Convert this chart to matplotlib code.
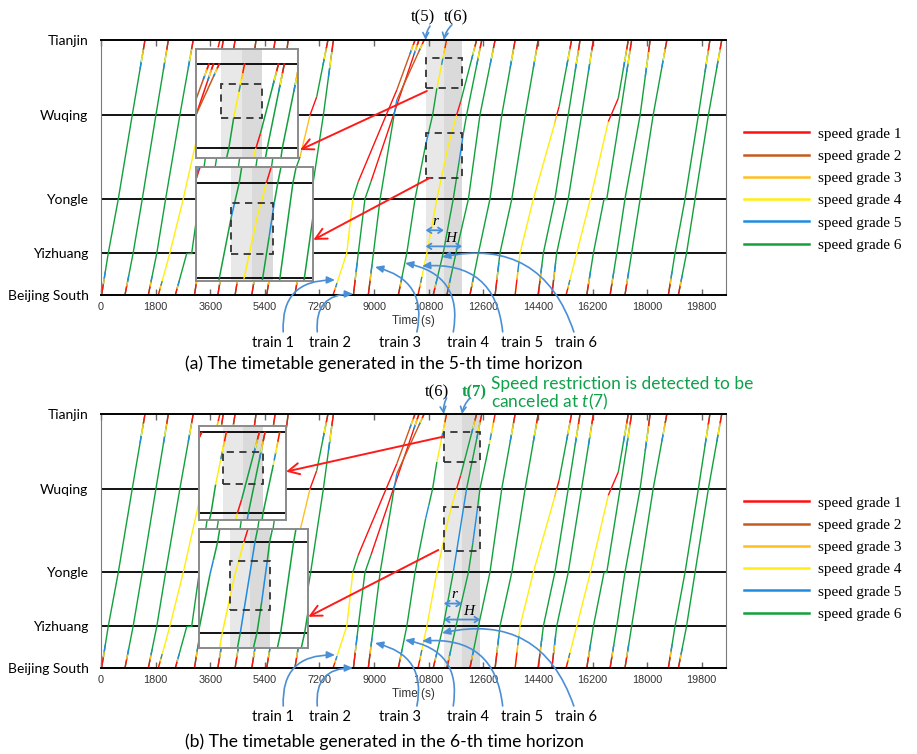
import matplotlib.pyplot as plt
from matplotlib.lines import Line2D
from matplotlib.patches import Rectangle
import numpy as np

plt.rcParams['mathtext.fontset'] = 'custom'
plt.rcParams['mathtext.it'] = 'Lato:italic'
plt.rcParams['mathtext.rm'] = 'Lato'

# ---------------- data ----------------
stations = ['Beijing South', 'Yizhuang', 'Yongle', 'Wuqing', 'Tianjin']
station_km = [0, 19.6, 44.8, 84, 119]
time_ticks = list(range(0, 19801, 1800))

grade_labels = ['speed grade 1', 'speed grade 2', 'speed grade 3',
                'speed grade 4', 'speed grade 5', 'speed grade 6']
grade_colors = ['#ff1010', '#c65a1e', '#ffbf1f', '#ffee10', '#1e8ce0', '#12a03c']

# trains running at speed grade 6 all the way: passing times (s) at the 5 stations
green_runs = [
    [20, 240, 570, 1030, 1450],
    [790, 1060, 1360, 1810, 2220],
    [1560, 1840, 2130, 2600, 3040],
    [3080, 3300, 3600, 4030, 4420],
    [3850, 4080, 4380, 4770, 5110],
    [4420, 4640, 4940, 5370, 5740],
    [4970, 5190, 5480, 5850, 6170],
    [6390, 6620, 6910, 7330, 7660],
    [12160, 12440, 12820, 13210, 13650],
    [12990, 13150, 13540, 13980, 14410],
    [14410, 14580, 14960, 15400, 15790],
    [14860, 15020, 15400, 15840, 16230],
    [16780, 17000, 17270, 17770, 18100],
    [17270, 17490, 17770, 18200, 18650],
    [18700, 18920, 19250, 19690, 20070],
    [19030, 19300, 19580, 20020, 20460],
]

# other trains: (time s, km, speed grade of the piece leaving this point)
other_runs = [
    [(1890, 0, 4), (2270, 19.6, 4), (2710, 44.8, 4), (3330, 84, 4), (3920, 119, 0)],
    [(2450, 0, 6), (2830, 19.6, 6), (2990, 19.6, 6), (3240, 44.8, 6), (3650, 84, 6), (4030, 119, 0)],
    [(5460, 0, 6), (5690, 19.6, 6), (6050, 44.8, 6), (6560, 64.4, 3), (6890, 84, 1),
     (7110, 92.5, 6), (7480, 119, 0)],
    [(7650, 0, 4), (8100, 19.6, 4), (8300, 44.8, 6), (8480, 52.9, 1), (9400, 84, 1),
     (9750, 95.7, 2), (10350, 119, 0)],
    [(8320, 0, 6), (8480, 19.6, 6), (8700, 44.8, 6), (8900, 53, 1), (9640, 84, 1), (10480, 119, 0)],
    [(8810, 0, 6), (8980, 19.6, 6), (9200, 44.8, 6), (9660, 84, 5), (9750, 91, 2), (10650, 119, 0)],
    [(9800, 0, 6), (10080, 19.6, 6), (10350, 44.8, 6), (10700, 70, 5), (10800, 76, 6),
     (10930, 84, 6), (11070, 96.5, 4), (11390, 119, 0)],
    [(10450, 0, 4), (10740, 19.6, 4), (11070, 44.8, 4), (11450, 70, 4), (11720, 84, 1),
     (11850, 90, 6), (12380, 119, 0)],
    [(10950, 0, 6), (11280, 19.6, 6), (11610, 44.8, 6), (11800, 62, 5), (11950, 76, 6),
     (12050, 84, 6), (12550, 119, 0)],
    [(11400, 0, 6), (11700, 19.6, 6), (12110, 44.8, 6), (12490, 84, 6), (12990, 119, 0)],
    [(13650, 0, 4), (13810, 19.6, 4), (14250, 44.8, 4), (14950, 80, 3), (15020, 84, 1),
     (15100, 88, 6), (15510, 119, 0)],
    [(15330, 0, 4), (15680, 19.6, 4), (16130, 44.8, 4), (16720, 80.9, 1), (17050, 91.8, 6),
     (17380, 119, 0)],
    [(16010, 0, 6), (16230, 19.6, 6), (16580, 44.8, 6), (16670, 44.8, 6), (17110, 84, 6),
     (17490, 119, 0)],
]

# trains re-planned in the 6-th time horizon (index in other_runs -> new run)
changed_runs_b = {
    8: [(10950, 0, 6), (11280, 19.6, 6), (11610, 44.8, 5), (12050, 84, 6), (12550, 119, 0)],
    9: [(11400, 0, 6), (11700, 19.6, 6), (12110, 44.8, 6), (12250, 58, 5), (12420, 76, 6),
        (12490, 84, 6), (12800, 105, 4), (12990, 119, 0)],
}

t_marks = {'a': 10700, 'b': 11300}     # t(5), t(6)
r_len = 600
horizon = 1200
box_km = [(96.6, 110.6), (54.6, 75.6)]

train_names = ['train 1', 'train 2', 'train 3', 'train 4', 'train 5', 'train 6']
train_text_t = [5669, 7548, 9855, 12080, 13876, 15656]
train_heads_a = [(7713, 7.0), (8306, 0.5), (9031, 13.1), (10020, 14.9), (10580, 13.5), (11240, 17.7)]
train_heads_b = [(7713, 6.1), (8306, 0.0), (9031, 11.7), (10020, 13.1), (10580, 12.6), (11240, 16.4)]

blue = '#4a8fd6'
accel = [(1, 0, 60), (3, 60, 90), (5, 90, 120)]
brake = [(5, 160, 120), (4, 120, 85), (3, 85, 50), (1, 50, 0)]


def as_run(times):
    return [(t, km, 6) for t, km in zip(times, station_km)]


def draw_run(ax, run, lw=1.0):
    t = np.array([p[0] for p in run], float)
    k = np.array([p[1] for p in run], float)
    for i in range(len(run) - 1):
        ax.plot(t[i:i + 2], k[i:i + 2], color=grade_colors[run[i][2] - 1], lw=lw,
                solid_capstyle='butt', zorder=2)
    for g, a, b in accel:
        tt = np.array([t[0] + a, t[0] + b])
        ax.plot(tt, np.interp(tt, t, k), color=grade_colors[g - 1], lw=lw, zorder=2)
    for g, a, b in brake:
        tt = np.array([t[-1] - a, t[-1] - b])
        ax.plot(tt, np.interp(tt, t, k), color=grade_colors[g - 1], lw=lw, zorder=2)


def draw_band(ax, t0):
    ax.axvspan(t0, t0 + r_len, color='#e8e8e8', lw=0, zorder=0)
    ax.axvspan(t0 + r_len, t0 + horizon, color='#dadada', lw=0, zorder=0)


def draw_boxes(ax, t0):
    for k0, k1 in box_km:
        ax.add_patch(Rectangle((t0, k0), horizon, k1 - k0, fill=False, ec='#333333',
                               lw=1.3, ls=(0, (4, 3)), zorder=3))


def add_inset(ax, bounds, xlim, ylim, runs, t0):
    ins = ax.inset_axes(bounds, transform=ax.transData)
    ins.set_facecolor('white')
    ins.set_xlim(*xlim)
    ins.set_ylim(*ylim)
    ins.set_xticks([])
    ins.set_yticks([])
    for s in ins.spines.values():
        s.set_color('#8a8a8a')
        s.set_linewidth(1.4)
    draw_band(ins, t0)
    for km in station_km:
        ins.axhline(km, color='black', lw=1.3, zorder=1)
    for run in runs:
        draw_run(ins, run, lw=1.1)
    draw_boxes(ins, t0)
    return ins


def draw_panel(ax, runs, t0, heads, text_km, insets, red_arrows):
    ax.set_xlim(0, 20600)
    ax.set_ylim(0, 119)
    draw_band(ax, t0)
    for km in station_km[1:4]:
        ax.axhline(km, color='black', lw=1.3, zorder=1)
    for run in runs:
        draw_run(ax, run)
    draw_boxes(ax, t0)

    ax.set_yticks(station_km)
    ax.set_yticklabels(stations, family='Lato', fontsize=10)
    ax.tick_params(axis='y', length=0, pad=9)
    ax.set_xticks(time_ticks)
    ax.set_xticklabels([str(v) for v in time_ticks], family='Liberation Sans',
                       fontsize=7.8, color='#333333')
    ax.tick_params(axis='x', direction='in', top=True, length=4, width=1,
                   color='#666666', pad=5)
    ax.set_xlabel('Time (s)', family='Liberation Sans', fontsize=8.5, color='#333333',
                  labelpad=2)
    for side in ['top', 'bottom']:
        ax.spines[side].set_linewidth(1.4)
    for side in ['left', 'right']:
        ax.spines[side].set_color('#7a7a7a')

    for bounds, xlim, ylim in insets:
        add_inset(ax, bounds, xlim, ylim, runs, t0)

    for start, end in red_arrows:
        ax.annotate('', xy=end, xytext=start,
                    arrowprops=dict(arrowstyle='->,head_length=0.8,head_width=0.4',
                                    color='#ff1a1a', lw=1.4, shrinkA=0, shrinkB=0),
                    zorder=7)

    # r and H
    ax.annotate('', xy=(t0 + r_len, 30.2), xytext=(t0, 30.2),
                arrowprops=dict(arrowstyle='<->,head_length=0.3,head_width=0.2',
                                color=blue, lw=1.3, shrinkA=0, shrinkB=0), zorder=7)
    ax.annotate('', xy=(t0 + horizon, 22.7), xytext=(t0, 22.7),
                arrowprops=dict(arrowstyle='<->,head_length=0.3,head_width=0.2',
                                color=blue, lw=1.3, shrinkA=0, shrinkB=0), zorder=7)
    ax.text(t0 + r_len * 0.55, 34.5, 'r', family='Liberation Serif', style='italic',
            fontsize=11, ha='center', va='center', zorder=7)
    ax.text(t0 + horizon * 0.68, 26.5, 'H', family='Liberation Serif', style='italic',
            fontsize=11, ha='center', va='center', zorder=7)

    rads = [-0.55, -0.55, 0.5, 0.5, 0.5, 0.45]
    rel = [(0.75, 1), (0.2, 1.2), (0.88, 1), (0.15, 1.1), (0.05, 1), (0.47, 1.1)]
    for name, tx, head, rad, rp in zip(train_names, train_text_t, heads, rads, rel):
        ax.annotate(name, xy=head, xytext=(tx, text_km), ha='center', va='center',
                    family='Lato', fontsize=10.5, annotation_clip=False, zorder=8,
                    arrowprops=dict(arrowstyle='-|>,head_length=0.45,head_width=0.2',
                                    color=blue, lw=1.2, shrinkA=1, shrinkB=0,
                                    relpos=rp, connectionstyle='arc3,rad=%s' % rad))


def top_arrow(ax, tail, head):
    ax.annotate('', xy=head, xytext=tail, annotation_clip=False,
                arrowprops=dict(arrowstyle='->,head_length=0.4,head_width=0.2',
                                color=blue, lw=1.2, shrinkA=0, shrinkB=0,
                                connectionstyle='arc3,rad=0.15'), zorder=8)


fig = plt.figure(figsize=(9.17, 7.54), dpi=100)
ax_a = fig.add_axes([101 / 917, 1 - 295 / 754, 625 / 917, 255 / 754])
ax_b = fig.add_axes([101 / 917, 1 - 668 / 754, 625 / 917, 254 / 754])

runs_a = [as_run(r) for r in green_runs] + other_runs
runs_b = [as_run(r) for r in green_runs] + [changed_runs_b.get(i, r) for i, r in enumerate(other_runs)]

draw_panel(ax_a, runs_a, t_marks['a'], train_heads_a, -22.4,
           [([3130, 63.9, 3370, 50.9], (9970, 12955), (79.9, 125.2)),
            ([3130, 6.5, 3860, 53.4], (9674, 13074), (43.7, 90.6))],
           [((10740, 95.2), (6560, 67.7)), ((10844, 54.7), (6998, 25.7))])
draw_panel(ax_b, runs_b, t_marks['b'], train_heads_b, -23.0,
           [([3220, 69.3, 2878, 44.2], (10562, 13181), (81.1, 121.9)),
            ([3220, 9.5, 3613, 55.6], (10361, 13649), (38.3, 89.5))],
           [((11283, 108.4), (6098, 92.0)), ((11118, 55.3), (6834, 24.0))])

# t(.) marks above the panels
ax_a.text(10613, 129.7, 't(5)', family='Liberation Serif', fontsize=12, ha='center', va='center')
ax_a.text(11700, 129.7, 't(6)', family='Liberation Serif', fontsize=12, ha='center', va='center')
top_arrow(ax_a, (10844, 125.5), (10700, 119))
top_arrow(ax_a, (11560, 126.0), (11300, 119))

green = '#0fa14a'
ax_b.text(11075, 129.3, 't(6)', family='Liberation Serif', fontsize=12, ha='center', va='center')
ax_b.text(12294, 129.3, 't(7)', family='Liberation Serif', fontsize=12, ha='center', va='center',
          color=green, weight='bold')
top_arrow(ax_b, (11390, 126.5), (11300, 119))
top_arrow(ax_b, (12162, 126.5), (11900, 119))
ax_b.text(12844, 133.1, 'Speed restriction is detected to be', family='Lato', fontsize=12.5,
          color=green, ha='left', va='center')
ax_b.text(12844, 124.6, 'canceled at $t$(7)', family='Lato', fontsize=12.5,
          color=green, ha='left', va='center')

# legends
handles = [Line2D([], [], color=c, lw=1.8) for c in grade_colors]
for ax, top in [(ax_a, 127), (ax_b, 496)]:
    ax.legend(handles, grade_labels, loc='upper left', bbox_to_anchor=(744 / 917, 1 - top / 754),
              bbox_transform=fig.transFigure, frameon=False, borderpad=0, borderaxespad=0,
              handlelength=4.25, handletextpad=0.6, labelspacing=0.56,
              prop={'family': 'Liberation Serif', 'size': 11})

fig.text(384 / 917, 1 - 364 / 754, '(a) The timetable generated in the 5-th time horizon',
         family='Lato', fontsize=12.6, ha='center', va='center')
fig.text(384 / 917, 1 - 742 / 754, '(b) The timetable generated in the 6-th time horizon',
         family='Lato', fontsize=12.6, ha='center', va='center')

fig.savefig('out.png', dpi=100)
